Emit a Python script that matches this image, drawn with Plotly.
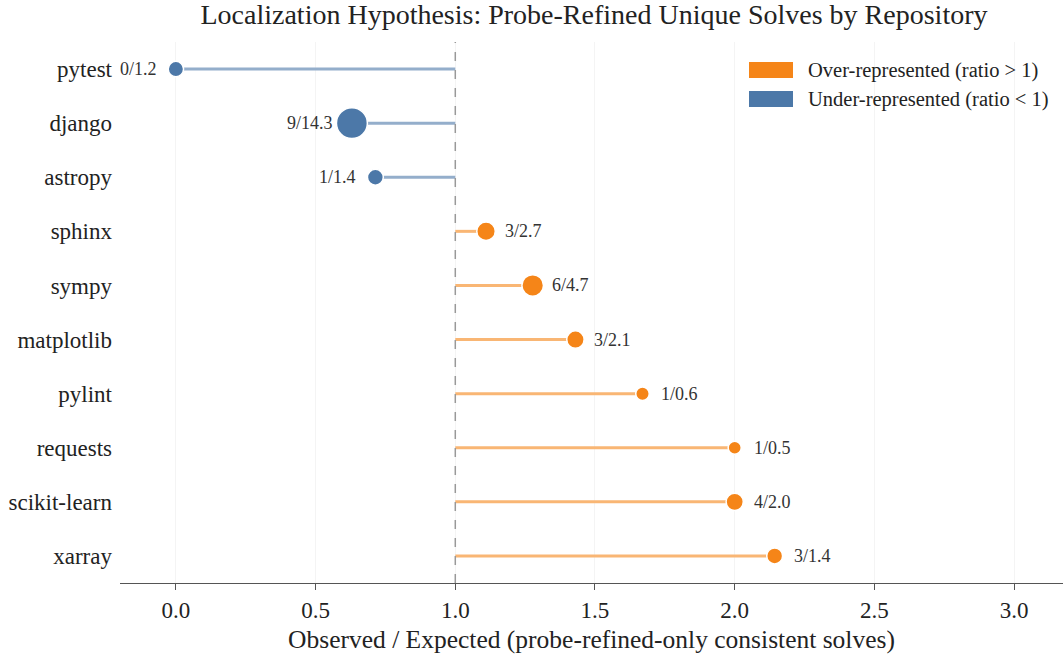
import plotly.graph_objects as go
import numpy as np

repos = ["pytest", "django", "astropy", "sphinx", "sympy", "matplotlib",
         "pylint", "requests", "scikit-learn", "xarray"]
observed = [0, 9, 1, 3, 6, 3, 1, 1, 4, 3]
expected = [1.2, 14.3, 1.4, 2.7, 4.7, 2.1, 0.6, 0.5, 2.0, 1.4]
ratios = [0.0, 0.63, 0.714, 1.11, 1.277, 1.43, 1.67, 2.0, 2.0, 2.143]

ORANGE = "#f58518"
BLUE = "#4c78a8"
ORANGE_L = "#f9b674"
BLUE_L = "#94aecb"
FONT = "Liberation Serif"

fig = go.Figure()

# stems
for r, repo in zip(ratios, repos):
    col = ORANGE_L if r > 1 else BLUE_L
    fig.add_trace(go.Scatter(x=[1.0, r], y=[repo, repo], mode="lines",
                             line=dict(color=col, width=3), hoverinfo="skip",
                             showlegend=False))

# markers
sizes = [9 + 5.8 * np.sqrt(e) for e in expected]
colors = [ORANGE if r > 1 else BLUE for r in ratios]
fig.add_trace(go.Scatter(x=ratios, y=repos, mode="markers",
                         marker=dict(size=sizes, color=colors, opacity=1,
                                     line=dict(color="white", width=1.5)),
                         showlegend=False))

# labels
for r, repo, o, e in zip(ratios, repos, observed, expected):
    over = r > 1
    fig.add_annotation(x=r, y=repo, text=f"{o}/{e:.1f}", showarrow=False,
                       xanchor="left" if over else "right",
                       xshift=17 if over else -17,
                       font=dict(family=FONT, size=18, color="#333333"))

# reference line
fig.add_shape(type="line", x0=1, x1=1, y0=0, y1=1, xref="x", yref="paper",
              line=dict(color="#999999", width=1.5, dash="dash"))

# legend (drawn manually as rectangles)
legend_items = [("Over-represented (ratio > 1)", ORANGE),
                ("Under-represented (ratio < 1)", BLUE)]
for i, (lab, col) in enumerate(legend_items):
    y_top = 62 + i * 29
    fig.add_shape(type="rect", xref="paper", yref="paper",
                  x0=(749 - 120) / 943, x1=(793 - 120) / 943,
                  y0=(583 - y_top - 16) / 541, y1=(583 - y_top) / 541,
                  line=dict(width=0), fillcolor=col)
    fig.add_annotation(xref="paper", yref="paper",
                       x=(806 - 120) / 943, y=(583 - y_top - 8) / 541,
                       text=lab, showarrow=False, xanchor="left", yanchor="middle",
                       font=dict(family=FONT, size=20.5, color="#222222"))

fig.update_layout(
    width=1063, height=657,
    margin=dict(l=120, r=0, t=42, b=74),
    plot_bgcolor="white", paper_bgcolor="white",
    font=dict(family=FONT, color="#222222"),
    title=dict(text="Localization Hypothesis: Probe-Refined Unique Solves by Repository",
               x=594 / 1063, xanchor="center", y=1 - 14 / 657, yanchor="middle",
               font=dict(family=FONT, size=28, color="#222222")),
    showlegend=False,
)
fig.update_xaxes(range=[-0.2, 3.175], tickvals=[0, 0.5, 1.0, 1.5, 2.0, 2.5, 3.0],
                 ticktext=["0.0", "0.5", "1.0", "1.5", "2.0", "2.5", "3.0"],
                 automargin=False,
                 showgrid=True, gridcolor="#f4f4f4", gridwidth=1,
                 showline=True, linecolor="#555555", linewidth=1.2,
                 ticks="outside", ticklen=6, tickcolor="#555555",
                 tickfont=dict(family=FONT, size=23, color="#222222"),
                 title=dict(text="Observed / Expected (probe-refined-only consistent solves)",
                            font=dict(family=FONT, size=25.5, color="#222222"), standoff=8),
                 zeroline=False)
fig.update_yaxes(categoryorder="array", categoryarray=repos,
                 range=[len(repos) - 0.5, -0.5], automargin=False,
                 showgrid=False, showline=False, ticks="", zeroline=False,
                 ticklabelstandoff=7,
                 tickfont=dict(family=FONT, size=23, color="#222222"))

fig.write_html("out.html", config={"displayModeBar": False},
               post_script="document.body.style.margin='0px';")
